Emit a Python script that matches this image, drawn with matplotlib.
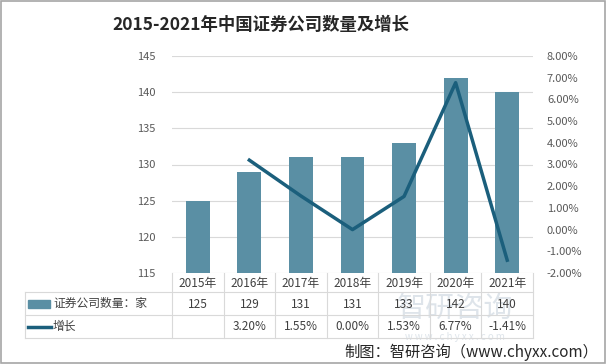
import matplotlib
matplotlib.use("Agg")
import matplotlib.pyplot as plt
import numpy as np
from matplotlib.patches import Rectangle
from matplotlib.lines import Line2D

plt.rcParams['font.family'] = ['Noto Sans CJK SC', 'DejaVu Sans']

years = ["2015年", "2016年", "2017年", "2018年", "2019年", "2020年", "2021年"]
counts = [125, 129, 131, 131, 133, 142, 140]
growth = [np.nan, 3.20, 1.55, 0.00, 1.53, 6.77, -1.41]
growth_labels = ["", "3.20%", "1.55%", "0.00%", "1.53%", "6.77%", "-1.41%"]
series_names = ["证券公司数量：家", "增长"]
title = "2015-2021年中国证券公司数量及增长"
source = "制图：智研咨询（www.chyxx.com）"

W, H = 606, 364
fig = plt.figure(figsize=(W / 100, H / 100), dpi=100)

def fx(px):
    return px / W

def fy(py):
    return 1 - py / H

bar_color = "#5A8FA4"
line_color = "#1B5F7C"
grid_color = "#D9D9D9"
text_color = "#595959"

ax_l, ax_r, ax_t, ax_b = 172, 533, 56, 273
ax = fig.add_axes([fx(ax_l), fy(ax_b), fx(ax_r - ax_l), fy(ax_t) - fy(ax_b)])
x = np.arange(len(years))
ax.bar(x, counts, width=0.46, color=bar_color, zorder=2)
ax.set_xlim(-0.5, len(years) - 0.5)
ax.set_ylim(115, 145)
ax.set_yticks(np.arange(115, 146, 5))
ax.grid(axis='y', color=grid_color, lw=0.8, zorder=0)
ax.set_xticks([])
for s in ax.spines.values():
    s.set_visible(False)
ax.tick_params(axis='y', length=0, labelsize=8, labelcolor=text_color, pad=12)

ax2 = ax.twinx()
ax2.plot(x, growth, color=line_color, lw=2.5, zorder=3)
ax2.set_ylim(-2, 8)
ax2.set_yticks(np.arange(-2, 8.1, 1))
ax2.set_yticklabels([f"{v:.2f}%" for v in np.arange(-2, 8.1, 1)])
ax2.tick_params(axis='y', length=0, labelsize=8, labelcolor=text_color, pad=10)
for s in ax2.spines.values():
    s.set_visible(False)
ax2.set_xlim(-0.5, len(years) - 0.5)

# Title
fig.text(fx(261), fy(25), title, ha='center', va='center', fontsize=12.5,
         fontweight='bold', color="#262626")

# Data table
col_w = (ax_r - ax_l) / len(years)
rows_y = [273, 292, 315, 338]
tbl_left = 25
lw = 0.8
for yy in rows_y[1:]:
    fig.add_artist(Line2D([fx(tbl_left), fx(ax_r)], [fy(yy), fy(yy)], color=grid_color, lw=lw))
for i in range(len(years) + 1):
    xx = ax_l + i * col_w
    fig.add_artist(Line2D([fx(xx), fx(xx)], [fy(273), fy(338)], color=grid_color, lw=lw))
fig.add_artist(Line2D([fx(tbl_left), fx(tbl_left)], [fy(292), fy(338)], color=grid_color, lw=lw))

# watermark (behind table text)
fig.text(fx(455), fy(309), "智研咨询", ha='center', va='center', fontsize=21,
         color="#C3CFDA", alpha=0.55, zorder=0)
fig.text(fx(455), fy(337), "w w w . c h y x x . c o m", ha='center', va='center', fontsize=7,
         color="#C3CFDA", alpha=0.55, zorder=0)

for i, yr in enumerate(years):
    cx = ax_l + (i + 0.5) * col_w
    fig.text(fx(cx), fy(283), yr, ha='center', va='center', fontsize=8.5, color="#404040")
    fig.text(fx(cx), fy(304), str(counts[i]), ha='center', va='center', fontsize=8.5, color="#404040")
    fig.text(fx(cx), fy(327), growth_labels[i], ha='center', va='center', fontsize=8.5, color="#404040")

fig.add_artist(Rectangle((fx(28), fy(308)), fx(22), fy(300) - fy(308), color=bar_color))
fig.text(fx(53), fy(303), series_names[0], ha='left', va='center', fontsize=8.5, color="#404040")
fig.add_artist(Line2D([fx(28), fx(51)], [fy(327), fy(327)], color=line_color, lw=2.5))
fig.text(fx(53), fy(326), series_names[1], ha='left', va='center', fontsize=8.5, color="#404040")

# source
fig.text(fx(598), fy(352), source, ha='right', va='center', fontsize=11, color="#262626")

# border
fig.add_artist(Rectangle((0.001, 0.002), 0.997, 0.995, fill=False, ec="#A6A6A6", lw=1.2,
                         transform=fig.transFigure))

fig.savefig("out.png", dpi=100)
